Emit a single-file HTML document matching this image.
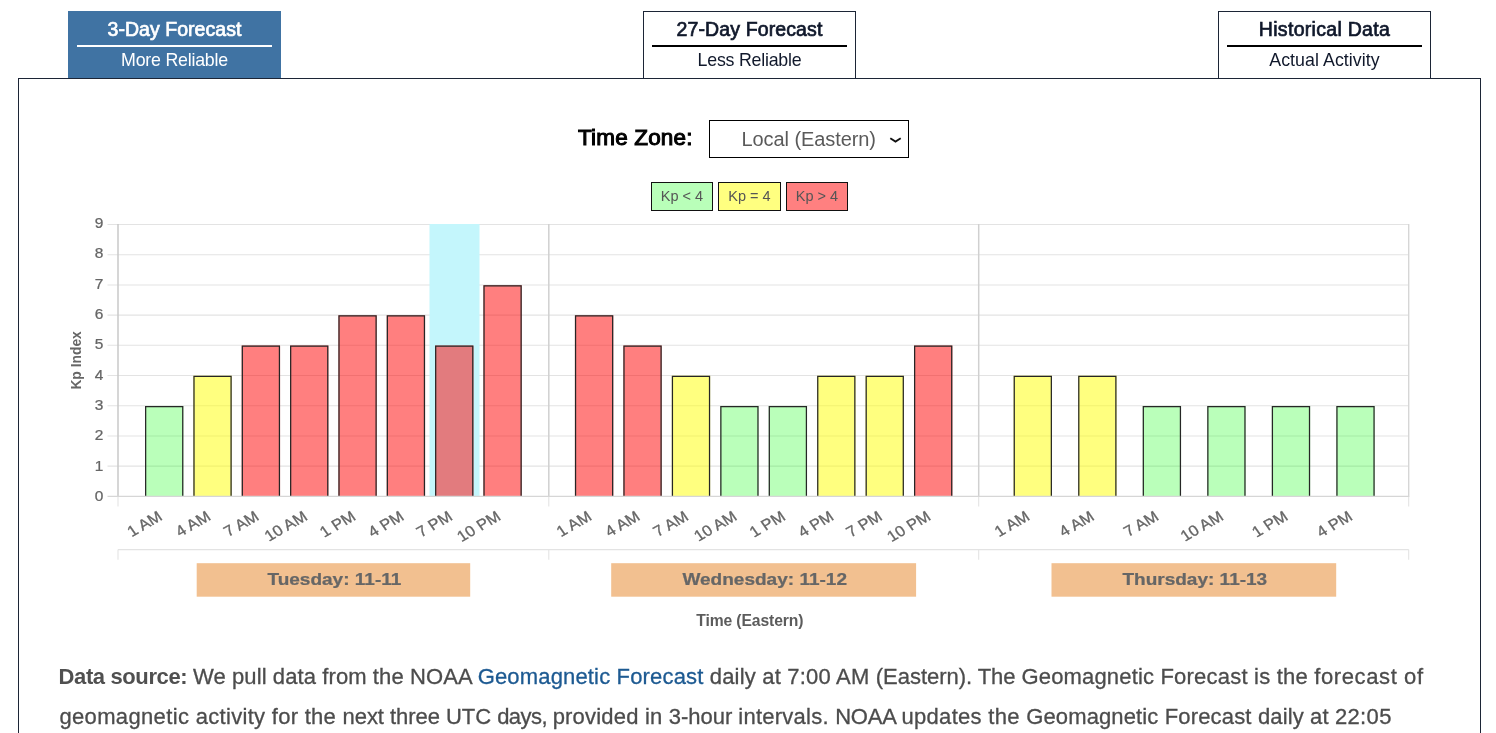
<!DOCTYPE html>
<html lang="en">
<head>
<meta charset="utf-8">
<title>Kp Index 3-Day Forecast</title>
<style>
html,body{margin:0;padding:0;background:#fff;}
body{width:1496px;height:733px;overflow:hidden;position:relative;font-family:"Liberation Sans",sans-serif;color:#555;}
.tabs{position:absolute;left:18px;top:11px;width:1463px;height:68px;box-sizing:border-box;padding:0 50px;display:flex;justify-content:space-between;margin:0;list-style:none;}
.tab{box-sizing:border-box;width:213px;height:68px;border:1px solid #1c2536;border-bottom:0;padding:0 8px;text-align:center;color:#10182b;background:#fff;}
.tab b{display:block;font-weight:normal;-webkit-text-stroke:.7px currentColor;font-size:19.5px;line-height:23px;height:23px;margin-top:6px;padding-bottom:4px;border-bottom:2px solid #000;white-space:nowrap;letter-spacing:0.12px;}
.tab span{display:block;font-size:17.8px;line-height:21px;margin-top:3px;white-space:nowrap;letter-spacing:-0.22px;}
.tab .w{letter-spacing:0.05px;}
.tab.on{background:#4073a3;border-color:#4073a3;color:#fff;}
.tab.on b{border-bottom-color:#fff;}
.panel{position:absolute;left:18px;top:78px;width:1463px;height:700px;box-sizing:border-box;border:1px solid #1c2536;background:#fff;}
.tz{position:absolute;left:0;top:120px;width:1496px;height:38px;}
.tz label{position:absolute;left:578px;top:0;line-height:36px;font-size:22.5px;font-weight:normal;-webkit-text-stroke:1.05px #000;color:#000;letter-spacing:0.17px;white-space:nowrap;}
.sel{position:absolute;left:709px;top:0;width:200px;height:38px;box-sizing:border-box;border:1px solid #000;background:#fff;color:#5a5a5a;font-size:20px;line-height:36px;}
.sel span{position:absolute;left:31.5px;top:0;letter-spacing:-0.08px;white-space:nowrap;}
.sel svg{position:absolute;right:6px;top:14px;}
.legend{position:absolute;left:651px;top:182px;display:flex;gap:5px;margin:0;padding:0;list-style:none;}
.legend li{box-sizing:border-box;height:29px;border:1px solid #111;font-size:14.5px;line-height:26px;text-align:center;color:#555;white-space:nowrap;}
.legend .g{width:62px;background:#b9ffb9;}
.legend .y{width:63px;background:#ffff80;}
.legend .r{width:62px;background:#ff8080;}
.chart{position:absolute;left:0;top:200px;font-family:"Liberation Sans",sans-serif;}
.chart .now{fill:#c4f6fc;}
.chart .grid line{stroke:#e3e3e3;stroke-width:1.05;}
.chart .axis line{stroke:#c8c8c8;stroke-width:1.5;}
.chart .sep line{stroke:#d0d0d0;stroke-width:1.5;}
.chart .xaxis{stroke:#d6d6d6;stroke-width:1.4;}
.chart .ytick text{stroke:#666;stroke-width:.25;font-size:13.8px;fill:#666;text-anchor:end;}
.chart .xtick text{stroke:#666;stroke-width:.3;font-size:15.05px;fill:#666;text-anchor:end;}
.chart .ytitle{font-size:13.85px;font-weight:bold;fill:#666;text-anchor:middle;}
.chart .bars path{stroke:#262626;stroke-width:1.25;fill:none;}
.chart .bars .g{fill:rgba(0,255,0,.27);}
.chart .bars .y{fill:rgba(255,255,0,.5);}
.chart .bars .r{fill:rgba(255,0,0,.5);}
.chart .day rect{fill:#f2c090;}
.chart .day text{stroke:#666;stroke-width:.25;font-size:17.3px;font-weight:bold;fill:#666;text-anchor:middle;}
.xtitle{position:absolute;left:0;top:610px;width:1499.6px;text-align:center;font-size:15.7px;line-height:22px;font-weight:bold;color:#5c5c5c;letter-spacing:-0.12px;}
.src{position:absolute;left:59px;top:657px;width:1400px;margin:0;font-size:22px;line-height:40px;color:#4c4c4c;-webkit-text-stroke:.3px currentColor;transform:translateY(.45px);white-space:nowrap;}
.src b{color:#505050;-webkit-text-stroke:0;}
.src a{color:#1d5a92;text-decoration:none;}
</style>
</head>
<body>
<ul class="tabs">
<li class="tab on"><b style="letter-spacing:.04px">3-Day Forecast</b><span>More Reliable</span></li>
<li class="tab"><b>27-Day Forecast</b><span>Less Reliable</span></li>
<li class="tab"><b style="letter-spacing:.3px">Historical Data</b><span class="w">Actual Activity</span></li>
</ul>
<main>
<div class="panel"></div>
<div class="tz"><label>Time Zone:</label>
<div class="sel"><span>Local (Eastern)</span><svg width="13" height="8" viewBox="0 0 13 8"><path d="M1.3 3.2L6.5 6.6L11.7 3.2" fill="none" stroke="#111" stroke-width="1.8"/></svg></div></div>
<ul class="legend"><li class="g">Kp &lt; 4</li><li class="y">Kp = 4</li><li class="r">Kp &gt; 4</li></ul>
<svg class="chart" width="1496" height="420" viewBox="0 200 1496 420" role="img" aria-label="Kp index 3-day forecast bar chart">
<g class="grid">
<line x1="107.5" x2="1408.7" y1="466.10" y2="466.10"/>
<line x1="107.5" x2="1408.7" y1="435.90" y2="435.90"/>
<line x1="107.5" x2="1408.7" y1="405.70" y2="405.70"/>
<line x1="107.5" x2="1408.7" y1="375.50" y2="375.50"/>
<line x1="107.5" x2="1408.7" y1="345.30" y2="345.30"/>
<line x1="107.5" x2="1408.7" y1="315.10" y2="315.10"/>
<line x1="107.5" x2="1408.7" y1="284.90" y2="284.90"/>
<line x1="107.5" x2="1408.7" y1="254.70" y2="254.70"/>
<line x1="107.5" x2="1408.7" y1="224.50" y2="224.50"/>
<line x1="118.0" x2="118.0" y1="496.3" y2="506.6"/>
<line x1="548.8" x2="548.8" y1="496.3" y2="506.6"/>
<line x1="978.7" x2="978.7" y1="496.3" y2="506.6"/>
<line x1="1408.7" x2="1408.7" y1="496.3" y2="506.6"/>
</g>
<rect class="now" x="429.5" y="224" width="50" height="272.3"/>
<g class="axis">
<line x1="118.0" x2="118.0" y1="224.0" y2="496.90000000000003"/>
</g>
<line class="xaxis" x1="1408.7" x2="1408.7" y1="224.0" y2="496.90000000000003"/>
<g class="sep">
<line x1="548.8" x2="548.8" y1="224.0" y2="496.90000000000003"/>
<line x1="978.7" x2="978.7" y1="224.0" y2="496.90000000000003"/>
</g>
<g class="grid">
<line x1="118.0" x2="1408.7" y1="549.6" y2="549.6"/>
<line x1="118.0" x2="118.0" y1="549.6" y2="559.8"/>
<line x1="548.8" x2="548.8" y1="549.6" y2="559.8"/>
<line x1="978.7" x2="978.7" y1="549.6" y2="559.8"/>
<line x1="1408.7" x2="1408.7" y1="549.6" y2="559.8"/>
</g>
<g class="ytick">
<text transform="translate(103.3 501.00) scale(1.12 1)">0</text>
<text transform="translate(103.3 470.68) scale(1.12 1)">1</text>
<text transform="translate(103.3 440.36) scale(1.12 1)">2</text>
<text transform="translate(103.3 410.04) scale(1.12 1)">3</text>
<text transform="translate(103.3 379.72) scale(1.12 1)">4</text>
<text transform="translate(103.3 349.40) scale(1.12 1)">5</text>
<text transform="translate(103.3 319.08) scale(1.12 1)">6</text>
<text transform="translate(103.3 288.76) scale(1.12 1)">7</text>
<text transform="translate(103.3 258.44) scale(1.12 1)">8</text>
<text transform="translate(103.3 228.12) scale(1.12 1)">9</text>
</g>
<text class="ytitle" transform="translate(81.2 360.4) rotate(-90) scale(1 1.1)">Kp Index</text>
<g class="bars">
<rect class="g" x="145.00" y="405.90" width="38.4" height="90.40"/>
<path d="M145.65 496.3V406.55H182.75V496.3"/>
<rect class="y" x="193.34" y="375.70" width="38.4" height="120.60"/>
<path d="M193.99 496.3V376.35H231.09V496.3"/>
<rect class="r" x="241.68" y="345.50" width="38.4" height="150.80"/>
<path d="M242.33 496.3V346.15H279.43V496.3"/>
<rect class="r" x="290.02" y="345.50" width="38.4" height="150.80"/>
<path d="M290.67 496.3V346.15H327.77V496.3"/>
<rect class="r" x="338.36" y="315.30" width="38.4" height="181.00"/>
<path d="M339.01 496.3V315.95H376.11V496.3"/>
<rect class="r" x="386.70" y="315.30" width="38.4" height="181.00"/>
<path d="M387.35 496.3V315.95H424.45V496.3"/>
<rect class="r" x="435.04" y="345.50" width="38.4" height="150.80"/>
<path d="M435.69 496.3V346.15H472.79V496.3"/>
<rect class="r" x="483.38" y="285.10" width="38.4" height="211.20"/>
<path d="M484.03 496.3V285.75H521.13V496.3"/>
<rect class="r" x="574.90" y="315.30" width="38.4" height="181.00"/>
<path d="M575.55 496.3V315.95H612.65V496.3"/>
<rect class="r" x="623.34" y="345.50" width="38.4" height="150.80"/>
<path d="M623.99 496.3V346.15H661.09V496.3"/>
<rect class="y" x="671.78" y="375.70" width="38.4" height="120.60"/>
<path d="M672.43 496.3V376.35H709.53V496.3"/>
<rect class="g" x="720.22" y="405.90" width="38.4" height="90.40"/>
<path d="M720.87 496.3V406.55H757.97V496.3"/>
<rect class="g" x="768.66" y="405.90" width="38.4" height="90.40"/>
<path d="M769.31 496.3V406.55H806.41V496.3"/>
<rect class="y" x="817.10" y="375.70" width="38.4" height="120.60"/>
<path d="M817.75 496.3V376.35H854.85V496.3"/>
<rect class="y" x="865.54" y="375.70" width="38.4" height="120.60"/>
<path d="M866.19 496.3V376.35H903.29V496.3"/>
<rect class="r" x="913.98" y="345.50" width="38.4" height="150.80"/>
<path d="M914.63 496.3V346.15H951.73V496.3"/>
<rect class="y" x="1013.60" y="375.70" width="38.4" height="120.60"/>
<path d="M1014.25 496.3V376.35H1051.35V496.3"/>
<rect class="y" x="1078.14" y="375.70" width="38.4" height="120.60"/>
<path d="M1078.79 496.3V376.35H1115.89V496.3"/>
<rect class="g" x="1142.68" y="405.90" width="38.4" height="90.40"/>
<path d="M1143.33 496.3V406.55H1180.43V496.3"/>
<rect class="g" x="1207.22" y="405.90" width="38.4" height="90.40"/>
<path d="M1207.87 496.3V406.55H1244.97V496.3"/>
<rect class="g" x="1271.76" y="405.90" width="38.4" height="90.40"/>
<path d="M1272.41 496.3V406.55H1309.51V496.3"/>
<rect class="g" x="1336.30" y="405.90" width="38.4" height="90.40"/>
<path d="M1336.95 496.3V406.55H1374.05V496.3"/>
</g>
<line class="xaxis" x1="107.5" x2="1408.7" y1="496.40000000000003" y2="496.40000000000003"/>
<g class="xtick">
<text transform="translate(163.50 519.0) scale(1.1 1) rotate(-32.4)">1 AM</text>
<text transform="translate(211.84 519.0) scale(1.1 1) rotate(-32.4)">4 AM</text>
<text transform="translate(260.18 519.0) scale(1.1 1) rotate(-32.4)">7 AM</text>
<text transform="translate(308.52 519.0) scale(1.1 1) rotate(-32.4)">10 AM</text>
<text transform="translate(356.86 519.0) scale(1.1 1) rotate(-32.4)">1 PM</text>
<text transform="translate(405.20 519.0) scale(1.1 1) rotate(-32.4)">4 PM</text>
<text transform="translate(453.54 519.0) scale(1.1 1) rotate(-32.4)">7 PM</text>
<text transform="translate(501.88 519.0) scale(1.1 1) rotate(-32.4)">10 PM</text>
<text transform="translate(592.80 519.0) scale(1.1 1) rotate(-32.4)">1 AM</text>
<text transform="translate(641.24 519.0) scale(1.1 1) rotate(-32.4)">4 AM</text>
<text transform="translate(689.68 519.0) scale(1.1 1) rotate(-32.4)">7 AM</text>
<text transform="translate(738.12 519.0) scale(1.1 1) rotate(-32.4)">10 AM</text>
<text transform="translate(786.56 519.0) scale(1.1 1) rotate(-32.4)">1 PM</text>
<text transform="translate(835.00 519.0) scale(1.1 1) rotate(-32.4)">4 PM</text>
<text transform="translate(883.44 519.0) scale(1.1 1) rotate(-32.4)">7 PM</text>
<text transform="translate(931.88 519.0) scale(1.1 1) rotate(-32.4)">10 PM</text>
<text transform="translate(1030.90 519.0) scale(1.1 1) rotate(-32.4)">1 AM</text>
<text transform="translate(1095.44 519.0) scale(1.1 1) rotate(-32.4)">4 AM</text>
<text transform="translate(1159.98 519.0) scale(1.1 1) rotate(-32.4)">7 AM</text>
<text transform="translate(1224.52 519.0) scale(1.1 1) rotate(-32.4)">10 AM</text>
<text transform="translate(1289.06 519.0) scale(1.1 1) rotate(-32.4)">1 PM</text>
<text transform="translate(1353.60 519.0) scale(1.1 1) rotate(-32.4)">4 PM</text>
</g>
<g class="day">
<rect x="196.7" y="563.2" width="273.5" height="33.5"/>
<text transform="translate(334.4 584.9) scale(1.1 1)">Tuesday: 11-11</text>
<rect x="611.2" y="563.2" width="304.9" height="33.5"/>
<text transform="translate(764.7 584.9) scale(1.1 1)">Wednesday: 11-12</text>
<rect x="1051.5" y="563.2" width="284.7" height="33.5"/>
<text transform="translate(1194.8 584.9) scale(1.1 1)">Thursday: 11-13</text>
</g>
</svg>
<div class="xtitle">Time (Eastern)</div>
<p class="src"><b style="letter-spacing:-0.378px;margin-left:-0.47px">Data source: </b><span style="letter-spacing:0.097px">We pull data from the NOAA </span><a href="#" style="letter-spacing:0.162px">Geomagnetic Forecast </a><span style="letter-spacing:0.200px">daily at 7:00 AM </span><span style="letter-spacing:-0.038px">(Eastern). The </span><span style="letter-spacing:0.153px">Geomagnetic </span><span style="letter-spacing:0.219px">Forecast is the </span><span style="letter-spacing:0.606px">forecast of</span><br><span style="letter-spacing:0.358px;margin-left:0.38px">geomagnetic </span><span style="letter-spacing:0.290px">activity for the </span><span style="letter-spacing:-0.043px">next three UTC </span><span style="letter-spacing:-0.533px">days, </span><span style="letter-spacing:0.194px">provided in </span><span style="letter-spacing:-0.022px">3-hour </span><span style="letter-spacing:0.246px">intervals. </span><span style="letter-spacing:-0.195px">NOAA </span><span style="letter-spacing:0.309px">updates the </span><span style="letter-spacing:0.119px">Geomagnetic </span><span style="letter-spacing:0.175px">Forecast </span><span style="letter-spacing:0.121px">daily at </span><span style="letter-spacing:0.367px">22:05</span></p>
</main>
</body>
</html>
